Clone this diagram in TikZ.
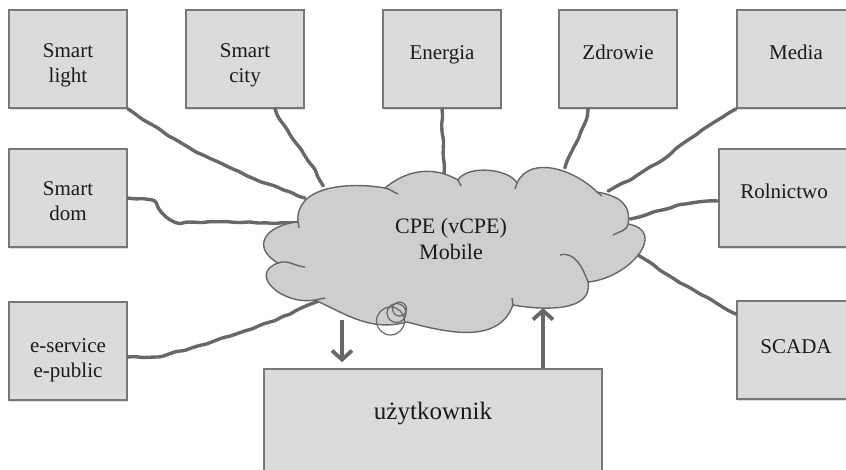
\documentclass[tikz,border=0pt]{standalone}
\usepackage{fontspec}
\setmainfont{Liberation Serif}
\usetikzlibrary{arrows.meta,calc,positioning,shadows,decorations.pathmorphing}
\definecolor{boxfill}{HTML}{DBDBDD}
\definecolor{boxline}{HTML}{777777}
\definecolor{cloudfill}{HTML}{CECED0}
\definecolor{cloudline}{HTML}{666666}
\definecolor{wiregray}{HTML}{686868}
\definecolor{ink}{HTML}{1A1A1A}
\newcommand\sinkby[1]{\rule{0pt}{#1}}

\begin{document}
\begin{tikzpicture}[x=1pt,y=1pt,
    box/.style={draw=boxline,fill=boxfill,line width=1.7pt,inner sep=0pt,
      minimum width=118pt,minimum height=98pt,align=center,text=ink,
      font=\fontsize{21}{25}\selectfont,
      drop shadow={shadow xshift=1.2pt,shadow yshift=-2pt,opacity=.25}},
    onebox/.style={box,text height=15pt,text depth=15pt},
    link/.style={draw=wiregray,line width=3.4pt,line cap=round,line join=round,
      decorate,decoration={random steps,segment length=8pt,amplitude=.9pt},
      rounded corners=3pt},
    puff/.style={draw=cloudline,line width=1.4pt},
    flow/.style={draw=wiregray,line width=3.8pt,-{Straight Barb[length=9pt,width=20pt]}}]
  \pgfmathsetseed{7}
  \useasboundingbox (0,0) rectangle (846,-469);

  % boxes
  \node[box] (sl) at (68,-59) {\sinkby{26pt}Smart\\light};
  \node[box] (sc) at (245,-59) {\sinkby{26pt}Smart\\city};
  \node[onebox] (en) at (442,-59) {Energia};
  \node[onebox] (zd) at (618,-59) {Zdrowie};
  \node[onebox] (me) at (796,-59) {Media};
  \node[box] (sd) at (68,-198) {\sinkby{20pt}Smart\\dom};
  \node[onebox,minimum width=130pt] (ro) at (784,-198) {Rolnictwo};
  \node[box] (es) at (68,-351) {\sinkby{32pt}e-service\\e-public};
  \node[onebox,text height=21pt] (sca) at (796,-350) {SCADA};
  \node[box,minimum width=338pt,minimum height=120pt,text depth=37pt,
    font=\fontsize{25}{30}\selectfont] (uz) at (433,-429) {użytkownik};

  % where the links meet the cloud
  \foreach \n/\x/\y in {sl/305/-198,sc/323/-186,en/444/-176,zd/565/-168,me/608/-191,
      ro/630/-219,sca/638/-255,sd/300/-223,es/323/-299}
    \coordinate (c\n) at (\x,\y);

  \draw[link] (sl.south east) to[out=-35,in=160] (csl);
  \draw[link] ([xshift=30pt]sc.south) to[out=-65,in=115] (csc);
  \draw[link] (en.south) -- (cen);
  \draw[link] ([xshift=-30pt]zd.south) to[out=-100,in=70] (czd);
  \draw[link] (me.south west) to[out=-150,in=25] (cme);
  \draw[link] ([yshift=-3pt]ro.west) to[out=180,in=15] (cro);
  \draw[link] ([yshift=-14pt]sca.north west) to[out=150,in=-35] (csca);
  \draw[link] (sd.east) -- ++(25,-2) to[out=-60,in=180] ++(30,-22) -- (csd);
  \draw[link] ([yshift=-6pt]es.east) -- ++(30,0) to[out=15,in=205] (ces);

  % cloud
  \foreach \n/\x/\y in {1/298/-222,2/385/-188,3/458/-180,4/517/-183,5/597/-192,6/628/-224,
      7/588/-282,8/513/-305,9/407/-322,10/315/-300,11/278/-263}
    \coordinate (j\n) at (\x,\y);
  \path[puff,fill=cloudfill] (j1) to[out=95,in=170] (j2) to[out=40,in=150] (j3)
    to[out=60,in=120,looseness=.75] (j4) to[out=65,in=135] (j5)
    to[out=-10,in=80,looseness=1.2] (j6) to[out=-10,in=5,looseness=1.5] (j7)
    to[out=-80,in=-10] (j8) to[out=-110,in=-15] (j9) to[out=-165,in=-25] (j10)
    to[out=190,in=200,looseness=1.6] (j11) to[out=150,in=185,looseness=1.8] (j1);
  \draw[puff] (j1) -- +(1,-6) (j2) to[out=-10,in=160] (398,-194)
    (j3) -- +(3,-6) (j4) -- +(-2,-6) (j5) -- +(5,-4)
    (j6) to[out=-100,in=30] (613,-235) (560,-255) to[out=15,in=110] (j7)
    (j8) -- +(-1,7) (j10) -- +(10,2) (j11) to[out=20,in=175] (305,-267);
  \node[text=ink,align=center,font=\fontsize{22}{26}\selectfont] (cpe) at (451,-239)
    {CPE (vCPE)\\Mobile};
  \draw[puff,line width=1.2pt] (390.5,-321) circle[radius=14] (396.5,-313) circle[radius=9.5]
    (399.5,-309) circle[radius=7];

  % to and from the user
  \coordinate (cdown) at (342,-320);
  \coordinate (cup) at (543,-308);
  \draw[flow] (cdown) -- ([yshift=6pt]cdown |- uz.north);
  \draw[flow] (cup |- uz.north) -- (cup);
\end{tikzpicture}
\end{document}
